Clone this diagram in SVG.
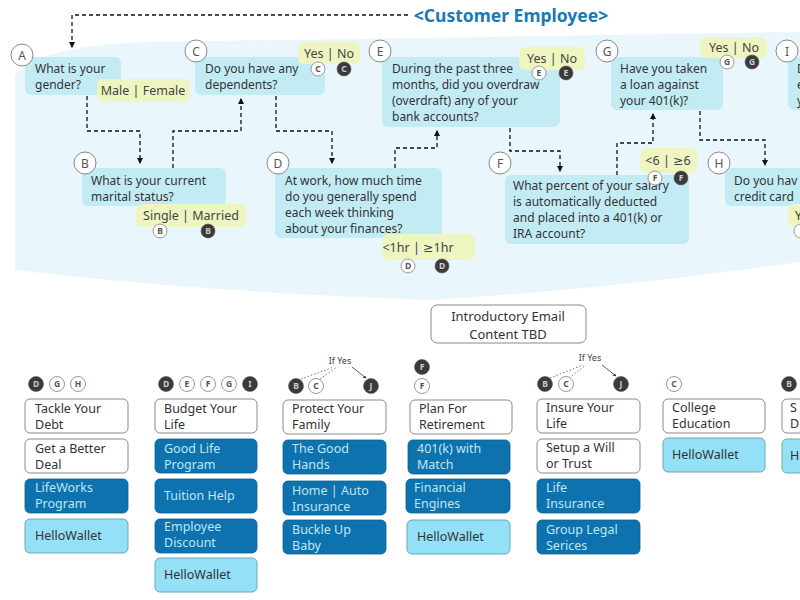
<svg xmlns="http://www.w3.org/2000/svg" width="800" height="600" viewBox="0 0 800 600">
<defs>
<marker id="ar" viewBox="0 0 6 6" refX="5" refY="3" markerWidth="5" markerHeight="5" orient="auto"><path d="M0,0 L6,3 L0,6 z" fill="#111"/></marker>
<marker id="ar2" viewBox="0 0 6 6" refX="5" refY="3" markerWidth="4" markerHeight="4" orient="auto"><path d="M0,0 L6,3 L0,6 z" fill="#333"/></marker>
</defs>
<style>
text{font-family:"Noto Sans","DejaVu Sans",sans-serif;}
.q{fill:#c3ebf3;}
.qt{font-size:12px;fill:#333;}
.ans{fill:#eef5c0;}
.at{font-size:12.5px;fill:#444;text-anchor:middle;}
.lc{fill:#fff;stroke:#888;stroke-width:1;}
.lt{font-size:12px;fill:#555;text-anchor:middle;}
.sw{fill:#fff;stroke:#999;stroke-width:1;}
.sd{fill:#3a3a3a;stroke:#555;stroke-width:0.6;}
.swt{font-size:8.5px;fill:#555;text-anchor:middle;font-weight:bold;}
.sdt{font-size:8.5px;fill:#ccc;text-anchor:middle;font-weight:bold;}
.c{fill:none;stroke:#111;stroke-width:1.3;stroke-dasharray:4,3;}
.wb{fill:#fff;stroke:#8a8a8a;stroke-width:1;}
.db{fill:#0d72ad;stroke:#0a5f90;stroke-width:0.8;}
.lb{fill:#94e0f7;stroke:#6aa9ba;stroke-width:1;}
.bt{font-size:12.5px;fill:#333;}
.dt{font-size:12.5px;fill:#bfe6f5;}
.iy{font-size:9px;fill:#444;text-anchor:middle;}
</style>
<rect width="800" height="600" fill="#fff"/>
<path d="M15,75 Q40,45 150,42 L800,32 L800,262 Q600,290 430,300 Q200,292 15,270 Z" fill="#e9f7fd"/>
<text x="511" y="22" font-size="17.5" font-weight="bold" fill="#1a7ab2" text-anchor="middle">&lt;Customer Employee&gt;</text>

<g id="connectors">
<path class="c" d="M408,15 H72 V47" marker-end="url(#ar)"/>
<path class="c" d="M87,96 V131 H140 V163" marker-end="url(#ar)"/>
<path class="c" d="M173,168 V131 H241 V99" marker-end="url(#ar)"/>
<path class="c" d="M276,96 V131 H332 V163" marker-end="url(#ar)"/>
<path class="c" d="M395,168 V148 H437 V131" marker-end="url(#ar)"/>
<path class="c" d="M510,128 V151 H560 V171" marker-end="url(#ar)"/>
<path class="c" d="M617,175 V143 H653 V114" marker-end="url(#ar)"/>
<path class="c" d="M700,111 V140 H765 V165" marker-end="url(#ar)"/>
</g>

<g id="nodeA">
<rect class="q" x="25" y="57" width="96" height="38" rx="6"/>
<circle class="lc" cx="22" cy="55" r="11"/><text class="lt" x="22" y="60">A</text>
<text class="qt" x="35" y="73">What is your</text><text class="qt" x="35" y="89">gender?</text>
<rect class="ans" x="97" y="79" width="93" height="23" rx="6"/><text class="at" x="143" y="95">Male | Female</text>
</g>

<g id="nodeC">
<rect class="q" x="195" y="57" width="130" height="38" rx="6"/>
<circle class="lc" cx="196" cy="51" r="11"/><text class="lt" x="196" y="56">C</text>
<text class="qt" x="205" y="73">Do you have any</text><text class="qt" x="205" y="89">dependents?</text>
<rect class="ans" x="298" y="42" width="62" height="22" rx="6"/><text class="at" x="329" y="58">Yes | No</text>
<circle class="sw" cx="318" cy="69" r="7"/><text class="swt" x="318" y="72">C</text>
<circle class="sd" cx="344" cy="69" r="7"/><text class="sdt" x="344" y="72">C</text>
</g>

<g id="nodeE">
<rect class="q" x="382" y="57" width="178" height="70" rx="6"/>
<circle class="lc" cx="380" cy="51" r="11"/><text class="lt" x="380" y="56">E</text>
<text class="qt" x="392" y="73">During the past three</text><text class="qt" x="392" y="89">months, did you overdraw</text><text class="qt" x="392" y="105">(overdraft) any of your</text><text class="qt" x="392" y="121">bank accounts?</text>
<rect class="ans" x="519" y="47" width="66" height="23" rx="6"/><text class="at" x="552" y="63">Yes | No</text>
<circle class="sw" cx="539" cy="73" r="7"/><text class="swt" x="539" y="76">E</text>
<circle class="sd" cx="566" cy="73" r="7"/><text class="sdt" x="566" y="76">E</text>
</g>

<g id="nodeG">
<rect class="q" x="611" y="57" width="112" height="53" rx="6"/>
<circle class="lc" cx="607" cy="51" r="11"/><text class="lt" x="607" y="56">G</text>
<text class="qt" x="620" y="73">Have you taken</text><text class="qt" x="620" y="89">a loan against</text><text class="qt" x="620" y="105">your 401(k)?</text>
<rect class="ans" x="700" y="37" width="67" height="21" rx="6"/><text class="at" x="734" y="52">Yes | No</text>
<circle class="sw" cx="727" cy="62" r="7"/><text class="swt" x="727" y="65">G</text>
<circle class="sd" cx="752" cy="62" r="7"/><text class="sdt" x="752" y="65">G</text>
</g>

<g id="nodeI">
<rect class="q" x="788" y="57" width="30" height="53" rx="6"/>
<circle class="lc" cx="787" cy="51" r="11"/><text class="lt" x="787" y="56">I</text>
<text class="qt" x="797" y="73">D</text><text class="qt" x="797" y="89">e</text><text class="qt" x="797" y="105">y</text>
</g>

<g id="nodeB">
<rect class="q" x="82" y="168" width="144" height="38" rx="6"/>
<circle class="lc" cx="85" cy="163" r="11"/><text class="lt" x="85" y="168">B</text>
<text class="qt" x="91" y="185">What is your current</text><text class="qt" x="91" y="201">marital status?</text>
<rect class="ans" x="136" y="204" width="110" height="23" rx="6"/><text class="at" x="191" y="220">Single | Married</text>
<circle class="sw" cx="160" cy="231" r="7"/><text class="swt" x="160" y="234">B</text>
<circle class="sd" cx="208" cy="231" r="7"/><text class="sdt" x="208" y="234">B</text>
</g>

<g id="nodeD">
<rect class="q" x="275" y="168" width="167" height="70" rx="6"/>
<circle class="lc" cx="278" cy="163" r="11"/><text class="lt" x="278" y="168">D</text>
<text class="qt" x="285" y="185">At work, how much time</text><text class="qt" x="285" y="201">do you generally spend</text><text class="qt" x="285" y="217">each week thinking</text><text class="qt" x="285" y="233">about your finances?</text>
<rect class="ans" x="382" y="234" width="93" height="26" rx="6"/><text class="at" x="418" y="252">&lt;1hr | ≥1hr</text>
<circle class="sw" cx="408" cy="266" r="7"/><text class="swt" x="408" y="269">D</text>
<circle class="sd" cx="442" cy="266" r="7"/><text class="sdt" x="442" y="269">D</text>
</g>

<g id="nodeF">
<rect class="q" x="505" y="175" width="184" height="69" rx="6"/>
<circle class="lc" cx="500" cy="163" r="11"/><text class="lt" x="500" y="168">F</text>
<text class="qt" x="513" y="190">What percent of your salary</text><text class="qt" x="513" y="206">is automatically deducted</text><text class="qt" x="513" y="222">and placed into a 401(k) or</text><text class="qt" x="513" y="238">IRA account?</text>
<rect class="ans" x="640" y="148" width="57" height="25" rx="6"/><text class="at" x="668" y="165">&lt;6 | ≥6</text>
<circle class="sw" cx="655" cy="178" r="7"/><text class="swt" x="655" y="181">F</text>
<circle class="sd" cx="681" cy="178" r="7"/><text class="sdt" x="681" y="181">F</text>
</g>

<g id="nodeH">
<rect class="q" x="725" y="168" width="90" height="38" rx="6"/>
<circle class="lc" cx="719" cy="163" r="11"/><text class="lt" x="719" y="168">H</text>
<text class="qt" x="734" y="185">Do you hav</text><text class="qt" x="734" y="201">credit card</text>
<rect class="ans" x="788" y="204" width="30" height="23" rx="6"/><text class="qt" x="795" y="220">Y</text>
<circle class="sw" cx="801" cy="231" r="7"/>
</g>

<g id="intro">
<rect class="wb" x="431" y="305" width="155" height="38" rx="6"/>
<text x="508" y="321" font-size="13" fill="#333" text-anchor="middle">Introductory Email</text>
<text x="508" y="339" font-size="13" fill="#333" text-anchor="middle">Content TBD</text>
</g>

<g id="col1">
<circle class="sd" cx="36" cy="384" r="7.5"/><text class="sdt" x="36" y="387">D</text>
<circle class="sw" cx="57" cy="384" r="7.5"/><text class="swt" x="57" y="387">G</text>
<circle class="sw" cx="78" cy="384" r="7.5"/><text class="swt" x="78" y="387">H</text>
<rect class="wb" x="25" y="399" width="103" height="34" rx="5"/><text class="bt" x="35" y="413">Tackle Your</text><text class="bt" x="35" y="429">Debt</text>
<rect class="wb" x="25" y="439" width="103" height="34" rx="5"/><text class="bt" x="35" y="453">Get a Better</text><text class="bt" x="35" y="469">Deal</text>
<rect class="db" x="25" y="479" width="103" height="34" rx="5"/><text class="dt" x="35" y="492">LifeWorks</text><text class="dt" x="35" y="508">Program</text>
<rect class="lb" x="25" y="519" width="103" height="34" rx="5"/><text class="bt" x="35" y="540">HelloWallet</text>
</g>

<g id="col2">
<circle class="sd" cx="166" cy="384" r="7.5"/><text class="sdt" x="166" y="387">D</text>
<circle class="sw" cx="187" cy="384" r="7.5"/><text class="swt" x="187" y="387">E</text>
<circle class="sw" cx="208" cy="384" r="7.5"/><text class="swt" x="208" y="387">F</text>
<circle class="sw" cx="229" cy="384" r="7.5"/><text class="swt" x="229" y="387">G</text>
<circle class="sd" cx="250" cy="384" r="7.5"/><text class="sdt" x="250" y="387">I</text>
<rect class="wb" x="155" y="399" width="102" height="34" rx="5"/><text class="bt" x="164" y="413">Budget Your</text><text class="bt" x="164" y="429">Life</text>
<rect class="db" x="155" y="439" width="102" height="34" rx="5"/><text class="dt" x="164" y="453">Good Life</text><text class="dt" x="164" y="469">Program</text>
<rect class="db" x="155" y="479" width="102" height="34" rx="5"/><text class="dt" x="164" y="500">Tuition Help</text>
<rect class="db" x="155" y="519" width="102" height="34" rx="5"/><text class="dt" x="164" y="531">Employee</text><text class="dt" x="164" y="547">Discount</text>
<rect class="lb" x="155" y="558" width="102" height="34" rx="5"/><text class="bt" x="164" y="579">HelloWallet</text>
</g>

<g id="col3">
<text class="iy" x="340" y="364">If Yes</text>
<path d="M301,379 L334,367 M320,379 L337,367" stroke="#555" stroke-width="0.8" stroke-dasharray="1.5,2" fill="none"/>
<path d="M352,367 L366,378" stroke="#333" stroke-width="0.8" fill="none" marker-end="url(#ar2)"/>
<circle class="sd" cx="296" cy="386" r="7.5"/><text class="sdt" x="296" y="389">B</text>
<circle class="sw" cx="316" cy="386" r="7.5"/><text class="swt" x="316" y="389">C</text>
<circle class="sd" cx="371" cy="386" r="7.5"/><text class="sdt" x="371" y="389">J</text>
<rect class="wb" x="283" y="400" width="103" height="34" rx="5"/><text class="bt" x="292" y="413">Protect Your</text><text class="bt" x="292" y="429">Family</text>
<rect class="db" x="283" y="440" width="103" height="34" rx="5"/><text class="dt" x="292" y="453">The Good</text><text class="dt" x="292" y="469">Hands</text>
<rect class="db" x="283" y="481" width="103" height="34" rx="5"/><text class="dt" x="292" y="495">Home | Auto</text><text class="dt" x="292" y="511">Insurance</text>
<rect class="db" x="283" y="520" width="103" height="34" rx="5"/><text class="dt" x="292" y="534">Buckle Up</text><text class="dt" x="292" y="550">Baby</text>
</g>

<g id="col4">
<circle class="sd" cx="422" cy="367" r="7.5"/><text class="sdt" x="422" y="370">F</text>
<circle class="sw" cx="422" cy="386" r="7.5"/><text class="swt" x="422" y="389">F</text>
<rect class="wb" x="410" y="400" width="102" height="34" rx="5"/><text class="bt" x="419" y="413">Plan For</text><text class="bt" x="419" y="429">Retirement</text>
<rect class="db" x="408" y="440" width="102" height="34" rx="5"/><text class="dt" x="417" y="453">401(k) with</text><text class="dt" x="417" y="469">Match</text>
<rect class="db" x="406" y="479" width="104" height="34" rx="5"/><text class="dt" x="414" y="492">Financial</text><text class="dt" x="414" y="508">Engines</text>
<rect class="lb" x="407" y="520" width="103" height="34" rx="5"/><text class="bt" x="417" y="541">HelloWallet</text>
</g>

<g id="col5">
<text class="iy" x="590" y="361">If Yes</text>
<path d="M550,378 L583,365 M569,378 L586,365" stroke="#555" stroke-width="0.8" stroke-dasharray="1.5,2" fill="none"/>
<path d="M602,365 L616,376" stroke="#333" stroke-width="0.8" fill="none" marker-end="url(#ar2)"/>
<circle class="sd" cx="545" cy="384" r="7.5"/><text class="sdt" x="545" y="387">B</text>
<circle class="sw" cx="566" cy="384" r="7.5"/><text class="swt" x="566" y="387">C</text>
<circle class="sd" cx="621" cy="384" r="7.5"/><text class="sdt" x="621" y="387">J</text>
<rect class="wb" x="537" y="399" width="103" height="34" rx="5"/><text class="bt" x="546" y="412">Insure Your</text><text class="bt" x="546" y="428">Life</text>
<rect class="wb" x="537" y="439" width="103" height="34" rx="5"/><text class="bt" x="546" y="452">Setup a Will</text><text class="bt" x="546" y="468">or Trust</text>
<rect class="db" x="537" y="479" width="103" height="34" rx="5"/><text class="dt" x="546" y="492">Life</text><text class="dt" x="546" y="508">Insurance</text>
<rect class="db" x="537" y="520" width="103" height="34" rx="5"/><text class="dt" x="546" y="534">Group Legal</text><text class="dt" x="546" y="550">Serices</text>
</g>

<g id="col6">
<circle class="sw" cx="674" cy="384" r="7.5"/><text class="swt" x="674" y="387">C</text>
<rect class="wb" x="663" y="399" width="102" height="34" rx="5"/><text class="bt" x="672" y="412">College</text><text class="bt" x="672" y="428">Education</text>
<rect class="lb" x="663" y="438" width="102" height="34" rx="5"/><text class="bt" x="672" y="459">HelloWallet</text>
</g>

<g id="col7">
<circle class="sd" cx="789" cy="384" r="7.5"/><text class="sdt" x="789" y="387">B</text>
<rect class="wb" x="782" y="399" width="60" height="34" rx="5"/><text class="bt" x="790" y="412">S</text><text class="bt" x="790" y="428">D</text>
<rect class="lb" x="782" y="439" width="60" height="34" rx="5"/><text class="bt" x="790" y="460">H</text>
</g>
</svg>
